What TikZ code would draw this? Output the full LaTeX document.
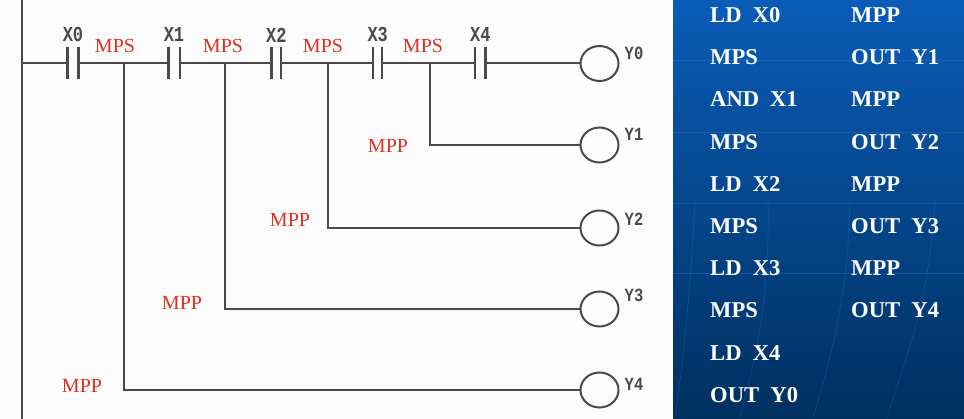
\documentclass[tikz,border=0pt]{standalone}
\usepackage{fontspec}
\setmainfont{Liberation Serif}
\newfontfamily\monof{Liberation Mono}
\usetikzlibrary{shapes.geometric}
\definecolor{wire}{HTML}{4A4A4A}
\definecolor{lab}{HTML}{E03020}
\definecolor{paneltop}{HTML}{0A5CB8}
\definecolor{panelbot}{HTML}{00305F}
\definecolor{bg}{HTML}{FCFCFC}
\definecolor{streak}{HTML}{2F80E0}
\tikzset{
 x=1pt,y=-1pt,
 wirel/.style={draw=wire,line width=2pt},
 plate/.style={draw=wire,line width=2.4pt},
 coil/.style={draw=wire,line width=2pt,ellipse,minimum width=38pt,minimum height=35pt,inner sep=0pt,fill=bg},
 redlab/.style={text=lab,font=\fontsize{20}{20}\selectfont,inner sep=0pt,anchor=center},
 xlab/.style={text=wire,font=\monof\bfseries\fontsize{17}{17}\selectfont,inner sep=0pt,yscale=1.25,anchor=center},
 ylab/.style={text=wire,font=\monof\bfseries\fontsize{15.5}{15.5}\selectfont,inner sep=0pt,yscale=1.2,anchor=center},
 ins/.style={text=white,font=\bfseries\fontsize{22.6}{22.6}\selectfont,inner sep=0pt,anchor=base west},
 hstreak/.style={draw=streak,line width=1pt,opacity=.35},
 cstreak/.style={draw=streak,line width=.7pt,opacity=.25},
}
\begin{document}
\begin{tikzpicture}
\useasboundingbox (0,0) rectangle (964,419);
\fill[bg] (0,0) rectangle (674,419);
\shade[top color=paneltop,bottom color=panelbot] (673,0) rectangle (964,419);
% panel streaks
\foreach \y in {61,133,204,274}{\draw[hstreak] (673,\y) -- (964,\y);}
\draw[cstreak] (695,200) .. controls (690,300) and (683,360) .. (675,418);
\draw[cstreak] (768,200) .. controls (770,300) and (755,360) .. (740,418);
\draw[cstreak] (850,200) .. controls (848,300) and (830,360) .. (813,418);
\draw[cstreak] (935,200) .. controls (930,300) and (905,360) .. (887,418);
% rails
\coordinate (railtop) at (22,0);
\coordinate (railbot) at (22,419);
\draw[wirel] (railtop) -- (railbot);
% contacts
\foreach \n/\x/\g in {0/73/5.5,1/174/5.7,2/276.3/4.7,3/377.7/4.5,4/480.3/5.3}{
  \coordinate (c\n l) at (\x-\g,63.5);
  \coordinate (c\n r) at (\x+\g,63.5);
  \draw[plate] (\x-\g,47) -- (\x-\g,79);
  \draw[plate] (\x+\g,47) -- (\x+\g,79);
  \node[xlab] (xl\n) at (\x,35) {X\n};
}
% coils
\node[coil] (y0) at (599.5,63.5) {};
\node[coil] (y1) at (599.5,145) {};
\node[coil] (y2) at (599.5,228) {};
\node[coil] (y3) at (599.5,309) {};
\node[coil] (y4) at (599.5,390) {};
\foreach \n/\y in {0/53,1/134,2/219,3/295,4/384}{
  \node[ylab] (yl\n) at (634,\y) {Y\n};
}
% junctions
\coordinate (railj) at (22,63.5);
\coordinate (j1) at (124,63.5);
\coordinate (j2) at (225,63.5);
\coordinate (j3) at (328,63.5);
\coordinate (j4) at (430,63.5);
\draw[wirel] (railj) -- (c0l);
\draw[wirel] (c0r) -- (c1l);
\draw[wirel] (c1r) -- (c2l);
\draw[wirel] (c2r) -- (c3l);
\draw[wirel] (c3r) -- (c4l);
\draw[wirel] (c4r) -- (y0);
\draw[wirel] (j4) |- (y1);
\draw[wirel] (j3) |- (y2);
\draw[wirel] (j2) |- (y3);
\draw[wirel] (j1) |- (y4);
% red labels
\node[redlab] (m1) at (115,46) {MPS};
\node[redlab] (m2) at (223,46) {MPS};
\node[redlab] (m3) at (323,46) {MPS};
\node[redlab] (m4) at (423,46) {MPS};
\node[redlab] (p1) at (388,146) {MPP};
\node[redlab] (p2) at (290,220) {MPP};
\node[redlab] (p3) at (182,303) {MPP};
\node[redlab] (p4) at (82,386) {MPP};
% instruction list
\foreach \t [count=\i from 0] in {LD\ \ X0,MPS,{AND\kern11pt X1},MPS,LD\ \ X2,MPS,LD\ \ X3,MPS,LD\ \ X4,OUT\ \ Y0}{
  \node[ins] (a\i) at (710,22.5+42.2*\i) {\t};
}
\foreach \t [count=\i from 0] in {MPP,OUT\ \ Y1,MPP,OUT\ \ Y2,MPP,OUT\ \ Y3,MPP,OUT\ \ Y4}{
  \node[ins] (b\i) at (851,22.5+42.2*\i) {\t};
}
\end{tikzpicture}
\end{document}
